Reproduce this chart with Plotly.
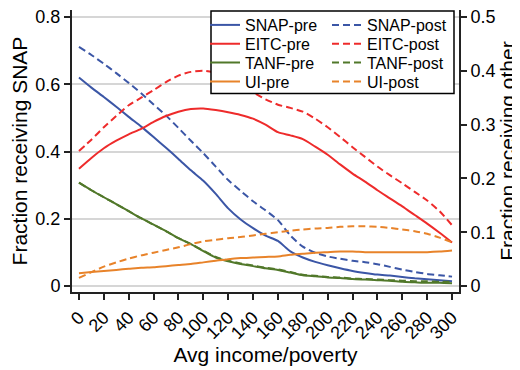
import plotly.graph_objects as go

income = [0, 10, 20, 30, 40, 50, 60, 70, 80, 90, 100, 110, 120, 130, 140, 150,
          160, 170, 180, 190, 200, 210, 220, 230, 240, 250, 260, 270, 280, 290, 300]

snap_pre = [0.620, 0.590, 0.562, 0.533, 0.503, 0.474, 0.443, 0.411, 0.378, 0.344, 0.313,
            0.274, 0.231, 0.198, 0.172, 0.150, 0.134, 0.103, 0.085, 0.072, 0.062,
            0.053, 0.045, 0.039, 0.034, 0.031, 0.027, 0.023, 0.020, 0.017, 0.014]
snap_post = [0.711, 0.687, 0.661, 0.633, 0.604, 0.573, 0.540, 0.507, 0.470, 0.432, 0.395,
             0.355, 0.315, 0.283, 0.252, 0.225, 0.196, 0.150, 0.117, 0.099, 0.088,
             0.081, 0.075, 0.071, 0.065, 0.057, 0.049, 0.042, 0.036, 0.032, 0.028]
eitc_pre = [0.218, 0.238, 0.256, 0.270, 0.282, 0.292, 0.305, 0.316, 0.324, 0.329, 0.330,
            0.327, 0.323, 0.318, 0.311, 0.300, 0.286, 0.280, 0.273, 0.259, 0.244,
            0.226, 0.209, 0.194, 0.178, 0.163, 0.148, 0.132, 0.116, 0.099, 0.081]
eitc_post = [0.251, 0.272, 0.295, 0.316, 0.336, 0.350, 0.364, 0.379, 0.391, 0.398, 0.400,
             0.396, 0.386, 0.373, 0.360, 0.347, 0.337, 0.331, 0.324, 0.311, 0.295,
             0.277, 0.258, 0.240, 0.222, 0.206, 0.191, 0.175, 0.159, 0.139, 0.113]
tanf_pre = [0.192, 0.178, 0.165, 0.152, 0.139, 0.126, 0.114, 0.102, 0.089, 0.078, 0.065,
            0.053, 0.046, 0.041, 0.037, 0.033, 0.030, 0.025, 0.020, 0.018, 0.016,
            0.015, 0.013, 0.012, 0.011, 0.010, 0.008, 0.007, 0.006, 0.006, 0.005]
tanf_post = [0.192, 0.178, 0.165, 0.152, 0.139, 0.126, 0.114, 0.102, 0.089, 0.078, 0.066,
             0.054, 0.047, 0.042, 0.038, 0.034, 0.031, 0.026, 0.021, 0.019, 0.017,
             0.016, 0.014, 0.013, 0.012, 0.011, 0.010, 0.009, 0.009, 0.008, 0.008]
ui_pre = [0.024, 0.026, 0.028, 0.030, 0.032, 0.034, 0.035, 0.037, 0.039, 0.041, 0.044,
          0.047, 0.050, 0.052, 0.053, 0.054, 0.055, 0.058, 0.060, 0.062, 0.063,
          0.064, 0.064, 0.063, 0.063, 0.063, 0.063, 0.063, 0.063, 0.064, 0.066]
ui_post = [0.015, 0.026, 0.036, 0.044, 0.051, 0.057, 0.062, 0.067, 0.072, 0.078, 0.083,
           0.086, 0.089, 0.091, 0.094, 0.097, 0.100, 0.103, 0.105, 0.107, 0.108,
           0.110, 0.111, 0.111, 0.110, 0.108, 0.105, 0.102, 0.097, 0.090, 0.081]

x_ticks = list(range(0, 301, 20))
left_ticks = [0, 0.2, 0.4, 0.6, 0.8]
left_labels = ["0", "0.2", "0.4", "0.6", "0.8"]
right_ticks = [0, 0.1, 0.2, 0.3, 0.4, 0.5]
right_labels = ["0", "0.1", "0.2", "0.3", "0.4", "0.5"]

BLUE = "#3B56A6"
RED = "#EE2B2B"
GREEN = "#51782A"
ORANGE = "#E8832A"
DASH = "7px,4px"
LW = 2
FONT = "Liberation Sans, Arial, sans-serif"

series = [
    ("SNAP-pre", snap_pre, BLUE, "y", None),
    ("SNAP-post", snap_post, BLUE, "y", DASH),
    ("EITC-pre", eitc_pre, RED, "y2", None),
    ("EITC-post", eitc_post, RED, "y2", DASH),
    ("TANF-pre", tanf_pre, GREEN, "y2", None),
    ("TANF-post", tanf_post, GREEN, "y2", DASH),
    ("UI-pre", ui_pre, ORANGE, "y2", None),
    ("UI-post", ui_post, ORANGE, "y2", DASH),
]

# figure size / plot area in figure pixels (the page adds an 8px body margin)
W, H = 512, 362
PL, PR, PT, PB = 64, 451, 0, 284
PW, PH = PR - PL, PB - PT
row_px = [15, 34, 53, 72]
col_px = [197, 319]

fig = go.Figure()
legends = {}
for i, (name, vals, col, ax, dash) in enumerate(series):
    lid = "legend" if i == 0 else "legend%d" % (i + 1)
    fig.add_trace(go.Scatter(x=income, y=vals, name=name, mode="lines", yaxis=ax,
                             line=dict(color=col, width=LW, dash=dash,
                                       shape="spline", smoothing=0.6),
                             legend=lid))
    r, c = i // 2, i % 2
    legends[lid] = dict(x=(col_px[c] - PL) / PW, y=(PB - row_px[r]) / PH,
                        xanchor="left", yanchor="middle",
                        bgcolor="rgba(0,0,0,0)", borderwidth=0,
                        font=dict(size=16, family=FONT, color="black"))

lo, hi = -0.0177, 0.8207

fig.update_layout(
    width=W, height=H,
    margin=dict(l=PL, r=W - PR, t=PT, b=H - PB),
    paper_bgcolor="white", plot_bgcolor="white",
    font=dict(family=FONT, size=18, color="black"),
    showlegend=True,
    xaxis=dict(range=[-5.6, 305.6], tickvals=x_ticks, tickangle=-45,
               ticks="outside", ticklen=6, tickwidth=1.5, tickcolor="#222",
               showline=True, linecolor="#222", linewidth=2,
               showgrid=False, zeroline=False, automargin=False,
               ticklabeloverflow="allow",
               title=dict(text="Avg income/poverty", font=dict(size=21), standoff=4)),
    yaxis=dict(range=[lo, hi], tickvals=left_ticks, ticktext=left_labels,
               ticks="outside", ticklen=6, tickwidth=1.5, tickcolor="#222",
               showline=True, linecolor="#222", linewidth=2,
               showgrid=True, gridcolor="#d6d6d6", gridwidth=1.5, zeroline=False,
               automargin=False, ticklabeloverflow="allow",
               title=dict(text="Fraction receiving SNAP", font=dict(size=21), standoff=6)),
    yaxis2=dict(range=[lo / 1.6, hi / 1.6], tickvals=right_ticks, ticktext=right_labels,
                overlaying="y", side="right",
                ticks="outside", ticklen=6, tickwidth=1.5, tickcolor="#222",
                showline=True, linecolor="#222", linewidth=2,
                showgrid=False, zeroline=False, automargin=False,
                ticklabeloverflow="allow",
                title=dict(text="Fraction receiving other", font=dict(size=21), standoff=4)),
    shapes=[dict(type="rect", xref="paper", yref="paper",
                 x0=(203 - PL) / PW, x1=(446 - PL) / PW,
                 y0=(PB - 84) / PH, y1=(PB - 1) / PH,
                 line=dict(color="black", width=1.5),
                 fillcolor="white", layer="above")],
    **legends,
)

fig.write_html("out.html")
